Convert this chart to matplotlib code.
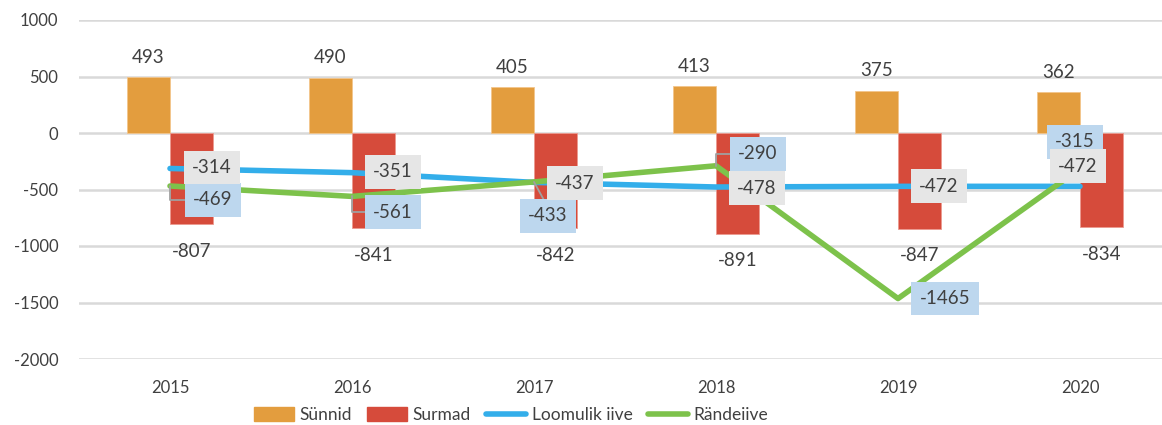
import matplotlib.pyplot as plt
import numpy as np
from matplotlib.patches import Patch
from matplotlib.lines import Line2D

plt.rcParams["font.family"] = ["Lato", "DejaVu Sans"]
plt.rcParams["axes.unicode_minus"] = False

years = ["2015", "2016", "2017", "2018", "2019", "2020"]
births = [493, 490, 405, 413, 375, 362]
deaths = [-807, -841, -842, -891, -847, -834]
natural = [-314, -351, -437, -478, -472, -472]
migration = [-469, -561, -433, -290, -1465, -315]

# hand placed label offsets (pixels), like the moved labels in the original
natural_offsets = [(42, 1), (41, 1), (41, -1), (41, -1), (41, 0), (-2, 20)]
migration_offsets = [(43, -14), (41, -16), (14, -34), (42, 12), (47, 0), (-5, 27)]
migration_leader = [True, True, True, True, False, False]

C_BIRTH = "#e39d3e"
C_DEATH = "#d64b3b"
C_NAT = "#33aeea"
C_MIG = "#7dc24b"
TXT = "#404040"
FS = 13.5

fig = plt.figure(figsize=(11.62, 4.25), dpi=100)
ax = fig.add_axes([79 / 1162, 66 / 425, 1092 / 1162, 339 / 425])

x = np.arange(len(years))
w = 0.236
ax.bar(x - w / 2, births, w, color=C_BIRTH, edgecolor="#f3c58c", linewidth=0.6, zorder=2)
ax.bar(x + w / 2, deaths, w, color=C_DEATH, edgecolor="#ec9a90", linewidth=0.6, zorder=2)
ax.plot(x, natural, color=C_NAT, lw=4, solid_capstyle="round", zorder=3)
ax.plot(x, migration, color=C_MIG, lw=4, solid_capstyle="round", zorder=3)

for i in range(len(years)):
    ax.annotate(str(births[i]), (x[i] - w / 2, births[i]), xytext=(0, 20),
                textcoords="offset pixels", ha="center", va="center",
                fontsize=FS, color=TXT)
    ax.annotate(str(deaths[i]), (x[i] + w / 2, deaths[i]), xytext=(0, -27),
                textcoords="offset pixels", ha="center", va="center",
                fontsize=FS, color=TXT)

for i in range(len(years)):
    ax.annotate(str(natural[i]), (x[i], natural[i]), xytext=natural_offsets[i],
                textcoords="offset pixels", ha="center", va="center",
                fontsize=FS, color=TXT, zorder=5,
                bbox=dict(boxstyle="square,pad=0.45", fc="#e6e6e6", ec="none"))
    props = None
    if migration_leader[i]:
        style = "arc3" if i == 2 else "angle,angleA=0,angleB=90,rad=0"
        props = dict(arrowstyle="-", color="#a0a0a0", lw=1.3, shrinkA=0, shrinkB=0,
                     connectionstyle=style, relpos=(0.5, 1) if i == 2 else (0, 0.5))
    ax.annotate(str(migration[i]), (x[i], migration[i]), xytext=migration_offsets[i],
                textcoords="offset pixels", ha="center", va="center",
                fontsize=FS, color=TXT, zorder=4, arrowprops=props,
                bbox=dict(boxstyle="square,pad=0.45", fc="#bdd7ee", ec="none"))

ax.set_xlim(-0.5, len(years) - 0.5)
ax.set_ylim(-2000, 1000)
ax.set_yticks(np.arange(-2000, 1001, 500))
ax.set_xticks(x)
ax.set_xticklabels(years)
ax.tick_params(length=0, labelsize=12, labelcolor=TXT)
ax.tick_params(axis="x", pad=15)
ax.tick_params(axis="y", pad=15)
ax.yaxis.grid(True, color="#d9d9d9", lw=1.8)
ax.set_axisbelow(True)
for s in ax.spines.values():
    s.set_visible(False)

handles = [Patch(color=C_BIRTH, label="Sünnid"),
           Patch(color=C_DEATH, label="Surmad"),
           Line2D([], [], color=C_NAT, lw=4, solid_capstyle="round", label="Loomulik iive"),
           Line2D([], [], color=C_MIG, lw=4, solid_capstyle="round", label="Rändeiive")]
fig.legend(handles=handles, loc="center", bbox_to_anchor=(511 / 1162, 10 / 425),
           ncol=4, frameon=False, fontsize=12.5, labelcolor=TXT,
           handlelength=2.3, handleheight=0.8, handletextpad=0.3, columnspacing=0.9)

fig.savefig("out.png", dpi=100)
